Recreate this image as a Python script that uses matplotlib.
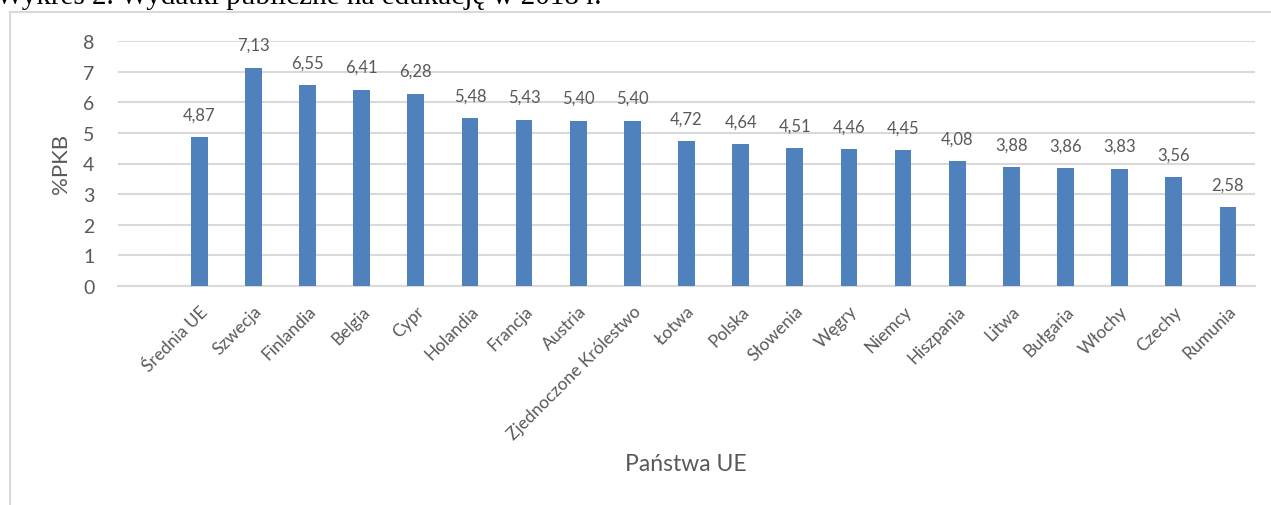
import matplotlib
matplotlib.use("Agg")
import matplotlib.pyplot as plt
from matplotlib.patches import Rectangle

# dane
countries = ["Średnia UE", "Szwecja", "Finlandia", "Belgia", "Cypr", "Holandia",
             "Francja", "Austria", "Zjednoczone Królestwo", "Łotwa", "Polska",
             "Słowenia", "Węgry", "Niemcy", "Hiszpania", "Litwa", "Bułgaria",
             "Włochy", "Czechy", "Rumunia"]
values = [4.87, 7.13, 6.55, 6.41, 6.28, 5.48, 5.43, 5.40, 5.40, 4.72, 4.64,
          4.51, 4.46, 4.45, 4.08, 3.88, 3.86, 3.83, 3.56, 2.58]
y_ticks = [0, 1, 2, 3, 4, 5, 6, 7, 8]

plt.rcParams["font.family"] = ["Lato", "DejaVu Sans"]
text_col = "#595959"
grid_col = "#D9D9D9"
bar_col = "#4F81BD"

fig = plt.figure(figsize=(12.71, 5.06), dpi=100)

# ramka wykresu (obcięta)
fig.patches.append(Rectangle((10 / 1271, -0.1), 1.2, 1.1 - 13 / 506,
                             transform=fig.transFigure, fill=False,
                             edgecolor=grid_col, linewidth=1.5, zorder=0))

# tytuł obcięty u góry
fig.text(-0.003, 1 - 4.5 / 506, "Wykres 2. Wydatki publiczne na edukację w 2018 r.",
         family=["Liberation Serif", "DejaVu Serif"], fontsize=21,
         va="baseline", ha="left", color="#000000")

ax = fig.add_axes([118 / 1271, 1 - 287 / 506, (1255 - 118) / 1271, (287 - 42) / 506])

x = list(range(len(countries)))
ax.bar(x, values, width=0.31, color=bar_col, zorder=3)

for xi, v in zip(x, values):
    ax.annotate(f"{v:.2f}".replace(".", ","), (xi, v), xytext=(0, 10.5),
                textcoords="offset points", ha="center", va="bottom",
                fontsize=12, color=text_col)

ax.set_xlim(-1.5, len(countries) - 0.5)
ax.set_ylim(0, 8)
ax.set_yticks(y_ticks)
ax.set_yticklabels([str(t) for t in y_ticks], fontsize=14, color=text_col)
ax.set_xticks(x)
ax.set_xticklabels(countries, rotation=45, ha="right", rotation_mode="anchor",
                   fontsize=12.5, color=text_col)
ax.tick_params(axis="both", length=0)
ax.tick_params(axis="y", pad=17)
ax.tick_params(axis="x", pad=12)

ax.grid(axis="y", color=grid_col, linewidth=1.5, zorder=0)
for side in ["top", "right", "left"]:
    ax.spines[side].set_visible(False)
ax.spines["bottom"].set_color(grid_col)
ax.spines["bottom"].set_linewidth(1.5)

fig.text(61 / 1271, 1 - 164 / 506, "%PKB", rotation=90, ha="center", va="center",
         fontsize=16, color=text_col)
fig.text(686 / 1271, 1 - 465 / 506, "Państwa UE", ha="center", va="center",
         fontsize=16.5, color=text_col)

fig.savefig("out.png", dpi=100)
